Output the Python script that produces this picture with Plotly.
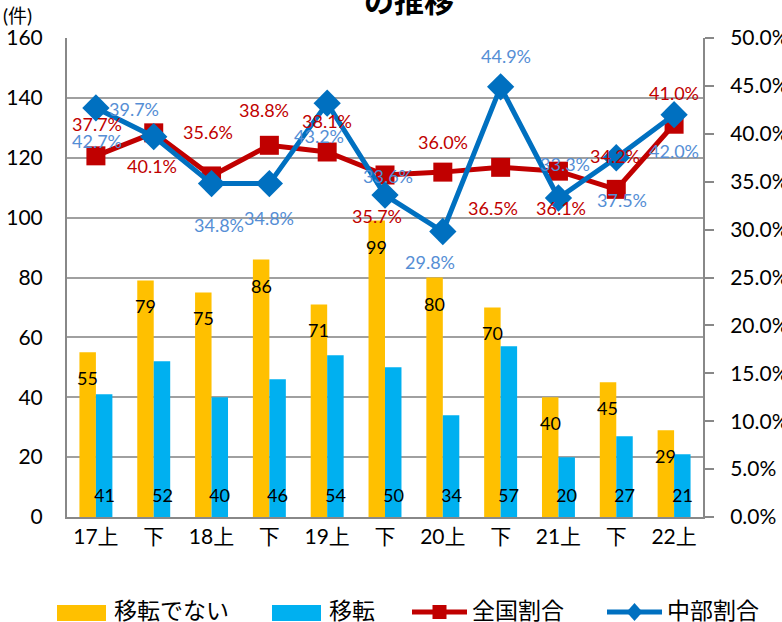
import plotly.graph_objects as go

# ---- data ----
periods = ["17上", "下", "18上", "下", "19上", "下", "20上", "下", "21上", "下", "22上"]
not_moved = [55, 79, 75, 86, 71, 99, 80, 70, 40, 45, 29]      # 移転でない
moved = [41, 52, 40, 46, 54, 50, 34, 57, 20, 27, 21]           # 移転
national_pct = [37.7, 40.1, 35.6, 38.8, 38.1, 35.7, 36.0, 36.5, 36.1, 34.2, 41.0]  # 全国割合
chubu_pct = [42.7, 39.7, 34.8, 34.8, 43.2, 33.6, 29.8, 44.9, 33.3, 37.5, 42.0]     # 中部割合
series_names = ["移転でない", "移転", "全国割合", "中部割合"]

# label pixel offsets (style only)
red_dx = [1, -2, -4, -5, 0, -8, 0, -8, 3, -1, 0]
red_dy = [-32, 33, -44, -35, -31, 41, -30, 41, 37, -33, -31]
blue_dx = [1, -20, 7, 0, -8, 3, -13, 5, 7, 6, 0]
blue_dy = [33, -28, 41, 34, 33, -19, 30, -31, -34, 42, 36]

FONT = "Lato, 'Noto Sans CJK JP', sans-serif"
YELLOW, CYAN, RED, BLUE, BLUE_LBL = "#FFC000", "#00B0F0", "#C00000", "#0070C0", "#558ED5"
GRID = "#A0A0A0"

W, H = 782, 622
L, R, T, B = 67, 79, 38, 105
PW, PH = W - L - R, H - T - B


def px(xp):
    return (xp - L) / PW


def py(yp):
    return (H - B - yp) / PH


x = list(range(len(periods)))

fig = go.Figure()
fig.add_trace(go.Bar(x=x, y=not_moved, name=series_names[0], marker=dict(color=YELLOW, line=dict(width=0))))
fig.add_trace(go.Bar(x=x, y=moved, name=series_names[1], marker=dict(color=CYAN, line=dict(width=0))))
fig.add_trace(go.Scatter(x=x, y=national_pct, name=series_names[2], yaxis="y2", mode="lines+markers",
                         line=dict(color=RED, width=5),
                         marker=dict(symbol="square", size=19, color=RED)))
fig.add_trace(go.Scatter(x=x, y=chubu_pct, name=series_names[3], yaxis="y2", mode="lines+markers",
                         line=dict(color=BLUE, width=5),
                         marker=dict(symbol="diamond", size=21, color=BLUE)))

ann = []
bar_half = 8.3
for i in x:
    ann.append(dict(x=i, y=not_moved[i], xref="x", yref="y", text=str(not_moved[i]), showarrow=False,
                    xshift=-bar_half, yshift=-26, font=dict(size=18, color="black", family=FONT)))
    ann.append(dict(x=i, y=0, xref="x", yref="y", text=str(moved[i]), showarrow=False,
                    xshift=bar_half, yshift=22, font=dict(size=18, color="black", family=FONT)))
    ann.append(dict(x=i, y=national_pct[i], xref="x", yref="y2", text=f"{national_pct[i]:.1f}%",
                    showarrow=False, xshift=red_dx[i], yshift=-red_dy[i],
                    font=dict(size=18, color=RED, family=FONT)))
    ann.append(dict(x=i, y=chubu_pct[i], xref="x", yref="y2", text=f"{chubu_pct[i]:.1f}%",
                    showarrow=False, xshift=blue_dx[i], yshift=-blue_dy[i],
                    font=dict(size=18, color=BLUE_LBL, family=FONT)))

ann.append(dict(x=px(17), y=py(16), xref="paper", yref="paper", text="(件)", showarrow=False,
                xanchor="center", yanchor="middle", font=dict(size=19, color="black", family=FONT)))

# ---- manual legend (wide swatches like the original) ----
shapes = []
leg_y = 612
text_x = [112, 327, 470, 665]
for xs, col in [((57, 106), YELLOW), ((272, 321), CYAN)]:
    shapes.append(dict(type="rect", xref="paper", yref="paper", x0=px(xs[0]), x1=px(xs[1]),
                       y0=py(leg_y + 9), y1=py(leg_y - 7), fillcolor=col, line=dict(width=0)))
for (x0, x1), col, sym in [((412, 467), RED, "square"), ((607, 662), BLUE, "diamond")]:
    shapes.append(dict(type="line", xref="paper", yref="paper", x0=px(x0), x1=px(x1),
                       y0=py(leg_y), y1=py(leg_y), line=dict(color=col, width=5)))
    cx = px((x0 + x1) / 2)
    if sym == "square":
        path = "M -7 -7 L 7 -7 L 7 7 L -7 7 Z"
    else:
        path = "M 0 -9 L 8 0 L 0 9 L -8 0 Z"
    shapes.append(dict(type="path", xref="paper", yref="paper", xsizemode="pixel", ysizemode="pixel",
                       xanchor=cx, yanchor=py(leg_y), path=path, fillcolor=col, line=dict(width=0)))
for tx, name in zip(text_x, series_names):
    ann.append(dict(x=px(tx), y=py(leg_y - 2), xref="paper", yref="paper", text=name, showarrow=False,
                    xanchor="left", yanchor="middle", font=dict(size=23, color="black", family=FONT)))

fig.update_layout(
    width=W, height=H,
    margin=dict(l=L, r=R, t=T, b=B, autoexpand=False),
    paper_bgcolor="white", plot_bgcolor="white",
    font=dict(family=FONT, color="black"),
    title=dict(text="の推移", x=409 / W, xanchor="center", y=1 - 1 / H, yanchor="middle",
               yref="container", font=dict(size=30, family=FONT, color="black", weight="bold")),
    barmode="group", bargap=0.43, bargroupgap=0,
    showlegend=False,
    xaxis=dict(range=[-0.5, len(periods) - 0.5], tickvals=x, ticktext=periods, showgrid=False,
               showline=True, linecolor="#888888", linewidth=2, ticks="", zeroline=False,
               tickfont=dict(size=21, family=FONT), automargin=False),
    yaxis=dict(range=[0, 160], dtick=20, showgrid=True, gridcolor=GRID, gridwidth=2,
               showline=True, linecolor="#888888", linewidth=2, zeroline=False, ticks="",
               tickfont=dict(size=21, family=FONT), ticklabelstandoff=18, automargin=False),
    yaxis2=dict(range=[0, 50], dtick=5, overlaying="y", side="right", showgrid=False,
                showline=True, linecolor="#888888", linewidth=2, ticks="outside", ticklen=9,
                tickcolor="#888888", tickwidth=2, tickformat=".1f", ticksuffix="%", zeroline=False,
                tickfont=dict(size=21, family=FONT), ticklabelstandoff=12, automargin=False),
    annotations=ann,
    shapes=shapes,
)

fig.write_html("out.html", config=dict(displayModeBar=False),
               post_script="document.body.style.margin='0';document.body.style.overflow='hidden';")
